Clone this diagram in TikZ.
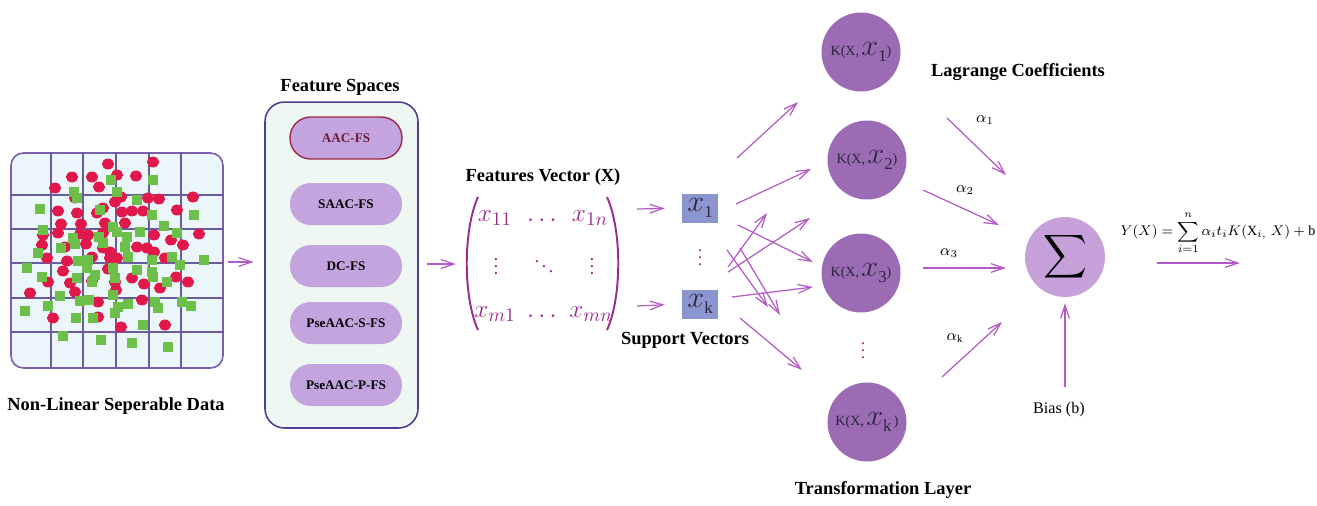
\documentclass[tikz,border=0pt]{standalone}
\usepackage{fontspec}
\setmainfont{Liberation Serif}
\usepackage{amsmath}
\usetikzlibrary{arrows.meta}

\definecolor{boxline}{HTML}{7B5FAE}
\definecolor{gridline}{HTML}{6A5A9E}
\definecolor{boxfill}{HTML}{EAF6F9}
\definecolor{ptred}{HTML}{E0194A}
\definecolor{ptgreen}{HTML}{6CBF48}
\definecolor{fsfill}{HTML}{EEF7F2}
\definecolor{fsline}{HTML}{4F3D94}
\definecolor{pillfill}{HTML}{C4A4DE}
\definecolor{pillred}{HTML}{A02848}
\definecolor{pilltext}{HTML}{6A1A3A}
\definecolor{arrowc}{HTML}{B25BC4}
\definecolor{svfill}{HTML}{8B96D1}
\definecolor{kfill}{HTML}{9B6CB4}
\definecolor{sigfill}{HTML}{C6A0D8}
\definecolor{matc}{HTML}{9A2C8E}
\definecolor{inkdark}{HTML}{2B2540}

\newcommand\ktext[2]{{\fontsize{8}{9}\selectfont K(X,\,}{\fontsize{16}{16}\selectfont$x$}\raisebox{-3pt}{\fontsize{9.5}{9.5}\selectfont #1}{\fontsize{8}{9}\selectfont #2)}}
\newcommand\svtext[1]{{\fontsize{16}{16}\selectfont$x$}\raisebox{-3pt}{\fontsize{9.5}{9.5}\selectfont #1}}

\begin{document}
\begin{tikzpicture}[x=0.02cm,y=-0.02cm,
  title/.style={font=\bfseries\fontsize{10.5}{12}\selectfont, inner sep=0pt},
  pill/.style={fill=pillfill, rounded corners=11.8pt, minimum width=2.24cm, minimum height=0.84cm,
    font=\bfseries\fontsize{7.5}{9}\selectfont, inner sep=0pt},
  kcircle/.style={circle, fill=kfill, minimum size=1.58cm, inner sep=0pt, text=inkdark},
  svbox/.style={fill=svfill, minimum width=0.72cm, minimum height=0.58cm, inner sep=0pt, text=inkdark},
  arr/.style={draw=arrowc, line width=0.7pt, -{Straight Barb[length=7.5pt,width=5pt]}},
  mtx/.style={text=matc, inner sep=0pt, font=\fontsize{15}{15}\selectfont},
  mdots/.style={text=matc, inner sep=0pt, font=\fontsize{11}{11}\selectfont},
  dotmark/.style={text=matc, inner sep=0pt}]
\useasboundingbox (0,0) rectangle (1317,505);

% ---------- scattered data ----------
\node[draw=boxline, line width=0.9pt, fill=boxfill, rounded corners=7pt,
      minimum width=4.24cm, minimum height=4.3cm, inner sep=0pt] (data) at (117,260.5) {};
\begin{scope}
  \clip[rounded corners=7pt] (data.south west) rectangle (data.north east);
  \foreach \gx in {51,83,116,149,181}
    \draw[gridline, line width=0.6pt] (\gx,150) -- (\gx,372);
  \foreach \gy in {195,229,263,298,332}
    \draw[gridline, line width=0.6pt] (8,\gy) -- (226,\gy);
  % class one: red dots
  \foreach \px/\py in {108/164,153/162,72/177,92/177,117/175,136/176,55/188,99/187,75/198,
      115/202,121/197,148/198,159/199,193/197,58/211,77/213,97/213,103/208,122/212,132/211,
      143/211,177/210,61/224,81/224,105/223,125/223,43/235,58/233,88/235,80/234,103/233,
      154/235,171/240,199/234,42/245,65/247,86/244,103/248,110/252,137/247,147/248,154/252,
      183/245,47/258,67/261,92/257,110/258,117/258,165/258,63/271,108/269,48/282,70/283,
      92/281,115/282,132/278,144/284,176/277,188/282,30/293,75/292,116/290,160/288,98/302,
      142/300,53/318,98/317,121/327,165/325}
    \fill[ptred] (\px,\py) ellipse [x radius=3.5pt, y radius=3.1pt];
  % class two: green squares
  \foreach \px/\py in {111/180,153/180,74/192,117/192,77/198,137/200,40/209,100/210,152/215,
      194/215,43/230,113/227,140/232,164/226,177/233,117/232,127/237,73/238,99/237,75/244,
      38/253,61/248,103/243,125/247,128/257,152/260,172/257,78/261,88/260,27/268,42/277,
      87/268,95/275,113/268,137/270,152/272,180/265,204/260,77/278,92/282,115/278,153/277,
      167/282,60/296,80/301,89/300,113/295,118/307,128/304,155/302,158/308,182/302,191/306,
      25/311,48/306,76/318,93/318,115/313,143/325,63/336,101/340,132/343,168/347}
    \fill[ptgreen] (\px,\py) ++(-2.6pt,-2.6pt) rectangle ++(5.2pt,5.2pt);
\end{scope}
\node[title] (datalab) at (116,406) {Non-Linear Seperable Data};

% ---------- feature spaces ----------
\node[draw=fsline, line width=0.9pt, fill=fsfill, rounded corners=11pt,
      minimum width=3.06cm, minimum height=6.52cm, inner sep=0pt] (fs) at (341.5,265) {};
\node[title] (fslab) at (340,87) {Feature Spaces};
\node[pill, draw=pillred, line width=0.8pt, text=pilltext] (p1) at (346,138) {AAC-FS};
\node[pill] (p2) at (346,204) {SAAC-FS};
\node[pill] (p3) at (346,266) {DC-FS};
\node[pill] (p4) at (346,323) {PseAAC-S-FS};
\node[pill] (p5) at (346,385) {PseAAC-P-FS};

\draw[arr, shorten <=2.5pt, shorten >=6pt] (data.east |- 0,262) -- (fs.west |- 0,262);

% ---------- feature matrix ----------
\node[title] (fvlab) at (543,177) {Features Vector (X)};
\draw[matc, line width=1.1pt] (478,197) .. controls (463,230) and (463,297) .. (478,330);
\draw[matc, line width=1.1pt] (607,197) .. controls (622,230) and (622,297) .. (607,330);
\node[mtx] (m11) at (495,218) {$x_{11}$};
\node[mtx] (m12) at (544,221) {$\cdots$};
\node[mtx] (m13) at (590,218) {$x_{1n}$};
\node[mdots] (m21) at (496,261) {$\vdots$};
\node[mdots] (m22) at (544,261) {$\ddots$};
\node[mdots] (m23) at (592,261) {$\vdots$};
\node[mtx] (m31) at (495,314) {$x_{m1}$};
\node[mtx] (m32) at (544,317) {$\cdots$};
\node[mtx] (m33) at (591,314) {$x_{mn}$};

\coordinate (fsout) at (427,264);
\coordinate (mtxin) at (456,264);
\draw[arr] (fsout) -- (mtxin);

% ---------- support vectors ----------
\node[svbox] (sv1) at (700,208) {\svtext{1}};
\node[svbox] (svk) at (700,304) {\svtext{k}};
\node[dotmark] (svdots) at (700,252) {$\vdots$};
\node[title] (svlab) at (685,340) {Support Vectors};
\coordinate (mo1) at (637,209);
\coordinate (mok) at (637,306);
\draw[arr, shorten >=9.6pt] (mo1) -- (sv1.west);
\draw[arr, shorten >=9.6pt] (mok) -- (svk.west);

% ---------- kernel layer ----------
\node[kcircle] (k1) at (861,52) {\ktext{1}{}};
\node[kcircle] (k2) at (867,160) {\ktext{2}{}};
\node[kcircle] (k3) at (861,273) {\ktext{3}{}};
\node[kcircle] (kk) at (867,422) {\ktext{k}{\,}};
\node[dotmark] (kdots) at (863,345) {$\vdots$};
\node[title] (tllab) at (883,490) {Transformation Layer};

\foreach \n/\sx/\sy/\ex/\ey in {a/737/158/798/102, b/736/204/811/169, c/738/225/813/262,
    d/728/267/767/213, e/728/272/810/218, f/727/250/768/307, g/740/248/780/315,
    h/732/297/813/287, i/740/318/802/370} {
  \coordinate (s\n) at (\sx,\sy);
  \coordinate (e\n) at (\ex,\ey);
  \draw[arr] (s\n) -- (e\n);
}

% ---------- weighted sum ----------
\node[title] (lclab) at (1018,72) {Lagrange Coefficients};
\node[circle, fill=sigfill, minimum size=1.6cm, inner sep=0pt] (sig) at (1065,257)
  {\fontsize{19}{19}\selectfont$\displaystyle\sum$};

\foreach \n/\sx/\sy/\ex/\ey/\lx/\ly/\lab in {1/947/118/1006/175/985/120/1, 2/923/190/999/225/965/190/2,
    3/923/268/1006/268/949/253/3, k/942/377/1002/322/955/338/\mathrm{k}} {
  \coordinate (ws\n) at (\sx,\sy);
  \coordinate (we\n) at (\ex,\ey);
  \draw[arr] (ws\n) -- (we\n);
  \node[inner sep=0pt, font=\fontsize{9}{9}\selectfont] (al\n) at (\lx,\ly) {$\alpha_{\lab}$};
}

\node[inner sep=0pt, font=\fontsize{9.2}{11}\selectfont] (bias) at (1059,410) {Bias (b)};
\coordinate (biasfoot) at (1062,387);
\draw[arr, shorten >=3.4pt] (sig.south |- biasfoot) -- (sig.south);

\node[inner sep=0pt, font=\fontsize{8}{10}\selectfont] (yout) at (1218,233)
  {$Y(X)=\displaystyle\sum_{i=1}^{n}\alpha_i t_i K(\mathrm{X}_{i,}\;X)+\mathrm{b}$};
\coordinate (os) at (1157,263);
\coordinate (oe) at (1240,263);
\draw[arr] (os) -- (oe);
\end{tikzpicture}
\end{document}
